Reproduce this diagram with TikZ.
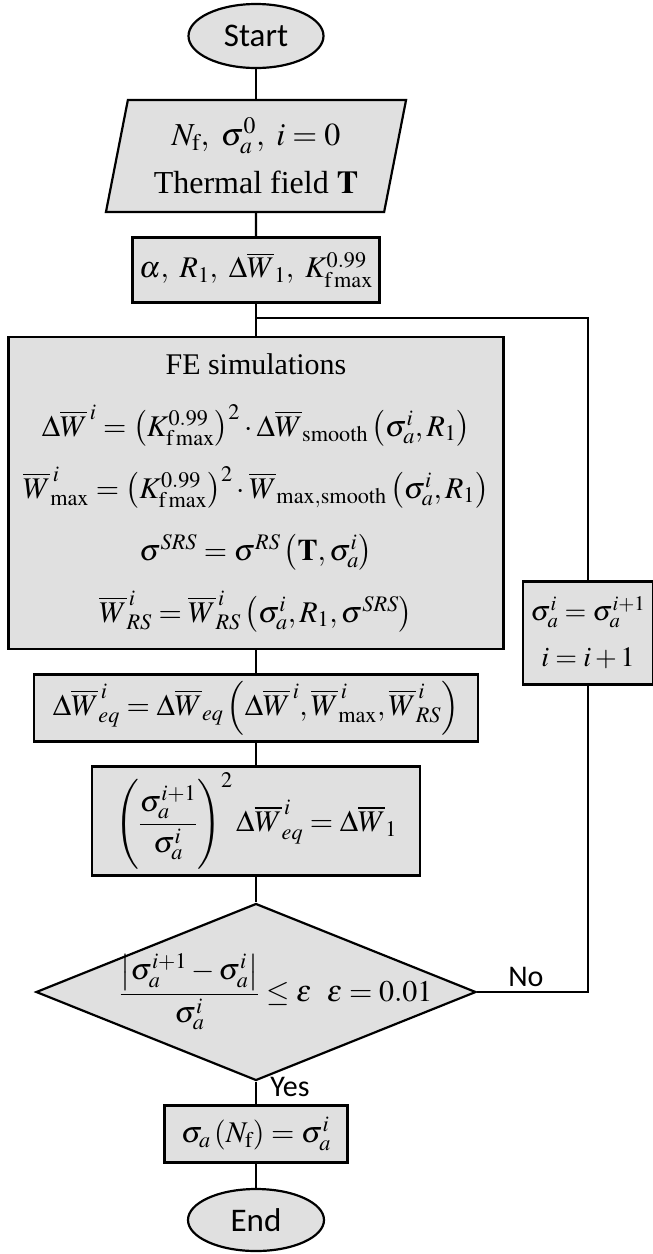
\documentclass[tikz,border=0pt]{standalone}
\usepackage{amsmath}
\usepackage{mathptmx}
\usepackage{fontspec}
\setmainfont{Liberation Serif}
\newfontfamily\labelfont{Carlito}
\usetikzlibrary{shapes.geometric}
\definecolor{boxgray}{RGB}{224,224,224}

\begin{document}
\begin{tikzpicture}[x=1pt, y=-1pt, line width=2.2pt,
  box/.style={draw, fill=boxgray, rectangle, inner sep=0pt, align=center, font=\fontsize{30}{62}\selectfont},
  term/.style={draw, fill=boxgray, ellipse, inner sep=0pt, font=\labelfont\fontsize{33}{38}\selectfont},
  tag/.style={font=\labelfont\fontsize{30}{36}\selectfont}]
  \useasboundingbox (0,0) rectangle (653,1254);
  % main column
  \node[term, minimum width=135pt, minimum height=64pt] (start) at (256,36) {Start};
  \node[box, trapezium, trapezium left angle=77, trapezium right angle=103, trapezium stretches=true,
        minimum width=301pt, minimum height=112pt, font=\fontsize{32}{48}\selectfont] (input) at (256,156)
        {$N_{\mathrm{f}},\ \sigma_a^0,\ i=0$\\Thermal field $\mathbf{T}$};
  \node[box, minimum width=247pt, minimum height=65pt] (param) at (256,270)
        {$\alpha,\ R_1,\ \Delta\overline{W}_1,\ K^{0.99}_{\mathrm{f\,max}}$};
  \node[box, minimum width=495pt, minimum height=312pt] (fe) at (256,493)
        {FE simulations\\
         $\Delta\overline{W}^{\,i}=\left(K^{0.99}_{\mathrm{f\,max}}\right)^{2}\cdot\Delta\overline{W}_{\mathrm{smooth}}\left(\sigma_a^i,R_1\right)$\\
         $\overline{W}^{\,i}_{\max}=\left(K^{0.99}_{\mathrm{f\,max}}\right)^{2}\cdot\overline{W}_{\mathrm{max,smooth}}\left(\sigma_a^i,R_1\right)$\\
         $\sigma^{SRS}=\sigma^{RS}\left(\mathbf{T},\sigma_a^i\right)$\\
         $\overline{W}^{\,i}_{RS}=\overline{W}^{\,i}_{RS}\left(\sigma_a^i,R_1,\sigma^{SRS}\right)$};
  \node[box, minimum width=444pt, minimum height=67pt] (weq) at (256,708)
        {$\Delta\overline{W}^{\,i}_{eq}=\Delta\overline{W}_{eq}\left(\Delta\overline{W}^{\,i},\overline{W}^{\,i}_{\max},\overline{W}^{\,i}_{RS}\right)$};
  \node[box, minimum width=328pt, minimum height=109pt] (update) at (256,821)
        {$\left(\dfrac{\sigma_a^{i+1}}{\sigma_a^i}\right)^{2}\Delta\overline{W}^{\,i}_{eq}=\Delta\overline{W}_1$};
  \node[draw, fill=boxgray, diamond, inner sep=0pt, minimum width=440pt, minimum height=177pt,
        label={[font=\fontsize{30}{36}\selectfont, xshift=20pt]center:$\dfrac{\left|\sigma_a^{i+1}-\sigma_a^i\right|}{\sigma_a^i}\le\varepsilon\ \ \varepsilon=0.01$}] (check) at (256,992) {};
  \node[box, minimum width=183pt, minimum height=57pt] (result) at (256,1134)
        {$\sigma_a\left(N_{\mathrm{f}}\right)=\sigma_a^i$};
  \node[term, minimum width=136pt, minimum height=62pt] (stop) at (256,1220) {End};
  % loop back
  \node[box, minimum width=130pt, minimum height=103pt, font=\fontsize{28}{46}\selectfont] (incr) at (588,633)
        {$\sigma_a^i=\sigma_a^{i+1}$\\$i=i+1$};
  \coordinate (merge) at (256,318);
  % connectors
  \draw (start) -- (input);
  \draw (input) -- (param);
  \draw (param) -- (fe);
  \draw (fe) -- (weq);
  \draw (weq) -- (update);
  \draw (update) -- (check);
  \draw (check) -- (result) node[tag, pos=0.25, right=10pt] {Yes};
  \draw (result) -- (stop);
  \draw (check.east) -| (incr) node[tag, pos=0.22, above=1pt] {No};
  \draw (incr) |- (merge);
\end{tikzpicture}
\end{document}
